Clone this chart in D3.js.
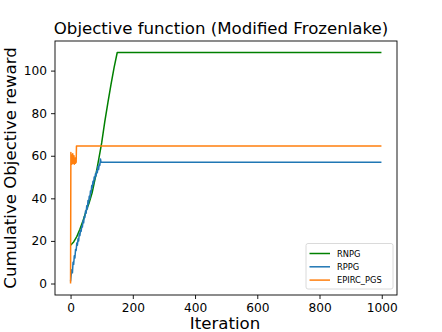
<!DOCTYPE html>
<html><head><meta charset="utf-8">
<script src="https://cdn.jsdelivr.net/npm/d3@7"></script>
<style>
body{margin:0;background:#fff;}
text{font-family:"DejaVu Sans",sans-serif;}
</style></head>
<body><svg id="c" width="442" height="332"></svg>
<script>
// ---- data ----
const xTicks = [0,200,400,600,800,1000];
const yTicks = [0,20,40,60,80,100];
const seriesNames = ["RNPG","RPPG","EPIRC_PGS"];
const seriesColors = ["#008000","#1f77b4","#ff7f0e"];

const rnpgIter = [0,10,20,30,40,50,60,70,80,90,100,110,120,130,140,150,999];
const rnpgVal  = [18,19.5,22,25.5,29.5,34,38,43,50,58,66,76,85,93.5,101.5,108.5,108.5];

const rppgIter = [0,2,4,6,8,10,12,14,16,18,20,22,24,26,28,30,32,34,36,38,40,42,44,46,48,50,52,54,56,58,60,62,64,66,68,70,72,74,76,78,80,82,84,86,88,90,92,94,96,98,999];
const rppgVal  = [1,4,6.5,5,10,9,13,12,16,15.5,19,18,21,20,23.5,22.5,25,24.5,27,26.5,29.5,28.5,31.5,31,34,33,36.5,35,39,37.5,41,40,43.5,42.5,46,45,48,47,50,49,51.5,50.5,53,52,55,53.5,56,55.5,58.5,56.9,56.9];

const epircIter = [0,1,2,3,4,5,6,7,8,9,10,11,12,13,14,15,16,17,18,19,999];
const epircVal  = [0,61.5,57,60.5,56,59,57.5,61,56.5,58,57,60,56,58.5,57,59,56.5,58,57,64.6,64.6];

// ---- layout ----
const svg = d3.select("#c");
const L=55,R=397,T=41,B=295;
const x = d3.scaleLinear().domain([-50,1049]).range([L,R]);
const y = d3.scaleLinear().domain([-5.4,113.9]).range([B,T]);

const series = [
  {name:seriesNames[0],color:seriesColors[0],it:rnpgIter,v:rnpgVal},
  {name:seriesNames[1],color:seriesColors[1],it:rppgIter,v:rppgVal},
  {name:seriesNames[2],color:seriesColors[2],it:epircIter,v:epircVal}
];
const line = d3.line().x(d=>x(d[0])).y(d=>y(d[1]));
svg.append("defs").append("clipPath").attr("id","clip")
  .append("rect").attr("x",L).attr("y",T).attr("width",R-L).attr("height",B-T);
const g = svg.append("g").attr("clip-path","url(#clip)");
series.forEach(s=>{
  g.append("path").datum(s.it.map((d,i)=>[d,s.v[i]]))
   .attr("d",line).attr("fill","none").attr("stroke",s.color)
   .attr("stroke-width",1.5).attr("stroke-linejoin","round");
});

// frame
svg.append("rect").attr("x",L).attr("y",T).attr("width",R-L).attr("height",B-T)
  .attr("fill","none").attr("stroke","#000").attr("stroke-width",0.9);

// axes
const xa = svg.append("g").attr("transform",`translate(0,${B})`)
  .call(d3.axisBottom(x).tickValues(xTicks).tickFormat(d3.format("d")).tickSize(4).tickPadding(4).tickSizeOuter(0));
const ya = svg.append("g").attr("transform",`translate(${L},0)`)
  .call(d3.axisLeft(y).tickValues(yTicks).tickFormat(d3.format("d")).tickSize(4).tickPadding(4).tickSizeOuter(0));
[xa,ya].forEach(a=>{
  a.select(".domain").remove();
  a.selectAll("text").attr("font-size","12.2px").attr("fill","#000").attr("font-family","DejaVu Sans");
  a.selectAll("line").attr("stroke","#000").attr("stroke-width",0.9);
});

// title and labels
svg.append("text").attr("x",(L+R)/2-5).attr("y",34).attr("text-anchor","middle")
  .attr("font-size","16.6px").text("Objective function (Modified Frozenlake)");
svg.append("text").attr("x",(L+R)/2-1).attr("y",329).attr("text-anchor","middle")
  .attr("font-size","16.6px").text("Iteration");
svg.append("text").attr("transform",`translate(16,${(T+B)/2}) rotate(-90)`)
  .attr("text-anchor","middle").attr("font-size","16.6px").text("Cumulative Objective reward");

// legend
const lg = svg.append("g");
lg.append("rect").attr("x",306).attr("y",243.5).attr("width",87).attr("height",45.5)
  .attr("rx",2).attr("fill","#fff").attr("fill-opacity",0.8).attr("stroke","#d0d0d0").attr("stroke-width",0.8);
series.forEach((s,i)=>{
  const yy = 253.5 + i*13.3;
  lg.append("line").attr("x1",309.5).attr("x2",330).attr("y1",yy).attr("y2",yy)
    .attr("stroke",s.color).attr("stroke-width",1.5);
  lg.append("text").attr("x",337).attr("y",yy+3).attr("font-size","8.3px").text(s.name);
});
</script></body></html>
